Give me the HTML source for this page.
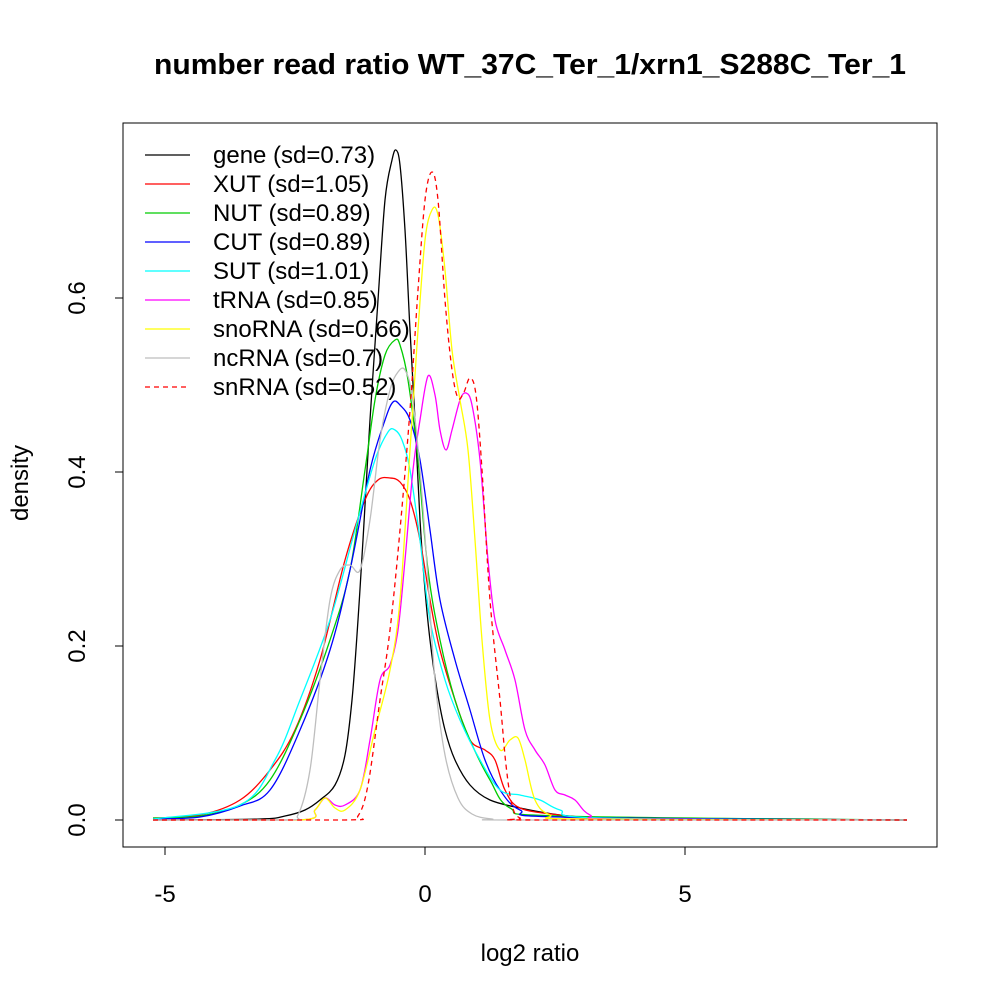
<!DOCTYPE html>
<html><head><meta charset="utf-8"><style>
body{margin:0;background:#fff}
svg{display:block;font-family:"Liberation Sans",sans-serif}
</style></head><body>
<svg width="1000" height="1000" viewBox="0 0 1000 1000" xmlns="http://www.w3.org/2000/svg">
<rect width="1000" height="1000" fill="#fff"/>
<text x="530" y="74" font-size="29" font-weight="bold" text-anchor="middle" textLength="752" lengthAdjust="spacingAndGlyphs">number read ratio WT_37C_Ter_1/xrn1_S288C_Ter_1</text>
<rect x="123" y="123" width="814" height="724" fill="none" stroke="#000" stroke-width="1"/>
<g stroke="#000" fill="none">
<path d="M165 847V855M425 847V855M685 847V855"/>
<path d="M123 820H115M123 646H115M123 472H115M123 298H115"/>
</g>
<g font-size="24" text-anchor="middle">
<text x="165" y="902">-5</text><text x="425" y="902">0</text><text x="685" y="902">5</text>
<text x="530" y="961">log2 ratio</text>
<text transform="translate(85,820) rotate(-90)">0.0</text>
<text transform="translate(85,646) rotate(-90)">0.2</text>
<text transform="translate(85,472) rotate(-90)">0.4</text>
<text transform="translate(85,298) rotate(-90)">0.6</text>
<text transform="translate(28,483) rotate(-90)">density</text>
</g>
<g id="curves" fill="none" stroke-width="1.3" stroke-linejoin="round">
<polyline stroke="#000" points="153,820 260,819 285,816 305,810 320,800 335,785 345,755 352,700 358,620 363,540 370,420 378,300 385,200 392,160 396,150 400,165 405,230 410,330 415,420 420,520 425,590 430,640 437,690 445,730 455,760 470,785 490,800 520,808 560,815 600,818 680,819 907,820"/>
<polyline stroke="#f00" points="153,818 200,815 240,800 270,770 295,730 320,660 345,560 365,500 378,480 390,478 400,482 410,500 420,540 430,600 440,650 455,700 470,740 485,750 495,760 505,790 520,808 560,815 600,818 907,820"/>
<polyline stroke="#0c0" points="153,818 200,816 240,805 270,780 300,720 330,640 350,570 365,470 375,400 385,355 395,340 400,345 408,380 418,460 428,570 440,640 455,700 470,740 490,780 510,808 560,816 907,820"/>
<polyline stroke="#00f" points="153,819 200,817 240,806 270,790 300,730 330,650 350,570 370,470 385,420 393,402 400,405 410,420 420,460 430,530 440,600 455,660 470,710 485,760 500,790 520,810 560,817 907,820"/>
<polyline stroke="#0ff" points="153,819 240,805 275,760 300,700 330,620 355,530 375,460 388,432 395,430 402,440 410,470 420,540 430,620 445,680 460,720 480,760 500,790 520,795 540,800 560,810 600,818 907,820"/>
<polyline stroke="#f0f" points="153,820 300,820 315,810 325,798 335,805 345,805 360,790 370,740 380,680 390,665 398,630 405,560 413,470 420,420 428,376 435,395 440,430 446,450 452,430 460,400 466,393 472,405 480,460 488,560 495,620 505,650 515,680 525,730 535,750 545,765 555,790 565,795 575,800 590,815 620,819 907,820"/>
<polyline stroke="#ff0" points="153,820 300,820 315,810 325,798 335,808 345,810 360,790 375,730 390,670 400,600 410,450 418,330 425,240 432,210 438,215 445,270 452,350 460,400 468,450 475,540 482,640 490,720 500,750 510,740 518,738 525,760 535,800 550,815 580,819 907,820"/>
<polyline stroke="#bebebe" points="153,820 285,820 298,815 310,770 320,680 330,600 340,570 350,565 360,570 370,520 380,440 390,390 398,372 405,370 412,395 420,470 428,580 435,680 445,755 458,798 472,814 492,819 520,820 907,820"/>
<polyline stroke="#f00" stroke-dasharray="5,4" points="153,820 345,820 358,816 368,785 380,700 390,630 400,530 410,410 418,290 425,200 432,172 438,200 445,300 452,370 458,398 464,392 470,378 476,395 482,470 490,600 500,700 506,765 512,805 520,818 540,820 907,820"/>
</g>
<g stroke-width="1.3">
<line x1="145" x2="190" y1="155" y2="155" stroke="#000"/>
<line x1="145" x2="190" y1="184" y2="184" stroke="#f00"/>
<line x1="145" x2="190" y1="213" y2="213" stroke="#0c0"/>
<line x1="145" x2="190" y1="242" y2="242" stroke="#00f"/>
<line x1="145" x2="190" y1="271" y2="271" stroke="#0ff"/>
<line x1="145" x2="190" y1="300" y2="300" stroke="#f0f"/>
<line x1="145" x2="190" y1="329" y2="329" stroke="#ff0"/>
<line x1="145" x2="190" y1="358" y2="358" stroke="#bebebe"/>
<line x1="145" x2="190" y1="387" y2="387" stroke="#f00" stroke-dasharray="5,4"/>
</g>
<g font-size="24">
<text x="213" y="163">gene (sd=0.73)</text>
<text x="213" y="192">XUT (sd=1.05)</text>
<text x="213" y="221">NUT (sd=0.89)</text>
<text x="213" y="250">CUT (sd=0.89)</text>
<text x="213" y="279">SUT (sd=1.01)</text>
<text x="213" y="308">tRNA (sd=0.85)</text>
<text x="213" y="337">snoRNA (sd=0.66)</text>
<text x="213" y="366">ncRNA (sd=0.7)</text>
<text x="213" y="395">snRNA (sd=0.52)</text>
</g>
</svg>
<script>
document.querySelectorAll('#curves polyline').forEach(function(pl){
  var p=pl.getAttribute('points').trim().split(/\s+/).map(function(s){return s.split(',').map(Number);});
  var d='M'+p[0][0]+' '+p[0][1];
  for(var i=0;i<p.length-1;i++){
    var p0=p[i-1]||p[i],p1=p[i],p2=p[i+1],p3=p[i+2]||p2;
    var c1x=p1[0]+(p2[0]-p0[0])/6,c1y=p1[1]+(p2[1]-p0[1])/6;
    var c2x=p2[0]-(p3[0]-p1[0])/6,c2y=p2[1]-(p3[1]-p1[1])/6;
    c1y=Math.min(c1y,820);c2y=Math.min(c2y,820);
    d+=' C'+c1x.toFixed(1)+' '+c1y.toFixed(1)+' '+c2x.toFixed(1)+' '+c2y.toFixed(1)+' '+p2[0]+' '+p2[1];
  }
  var path=document.createElementNS('http://www.w3.org/2000/svg','path');
  path.setAttribute('d',d);
  ['stroke','stroke-dasharray'].forEach(function(a){if(pl.getAttribute(a))path.setAttribute(a,pl.getAttribute(a));});
  pl.parentNode.replaceChild(path,pl);
});
</script>
</body></html>
